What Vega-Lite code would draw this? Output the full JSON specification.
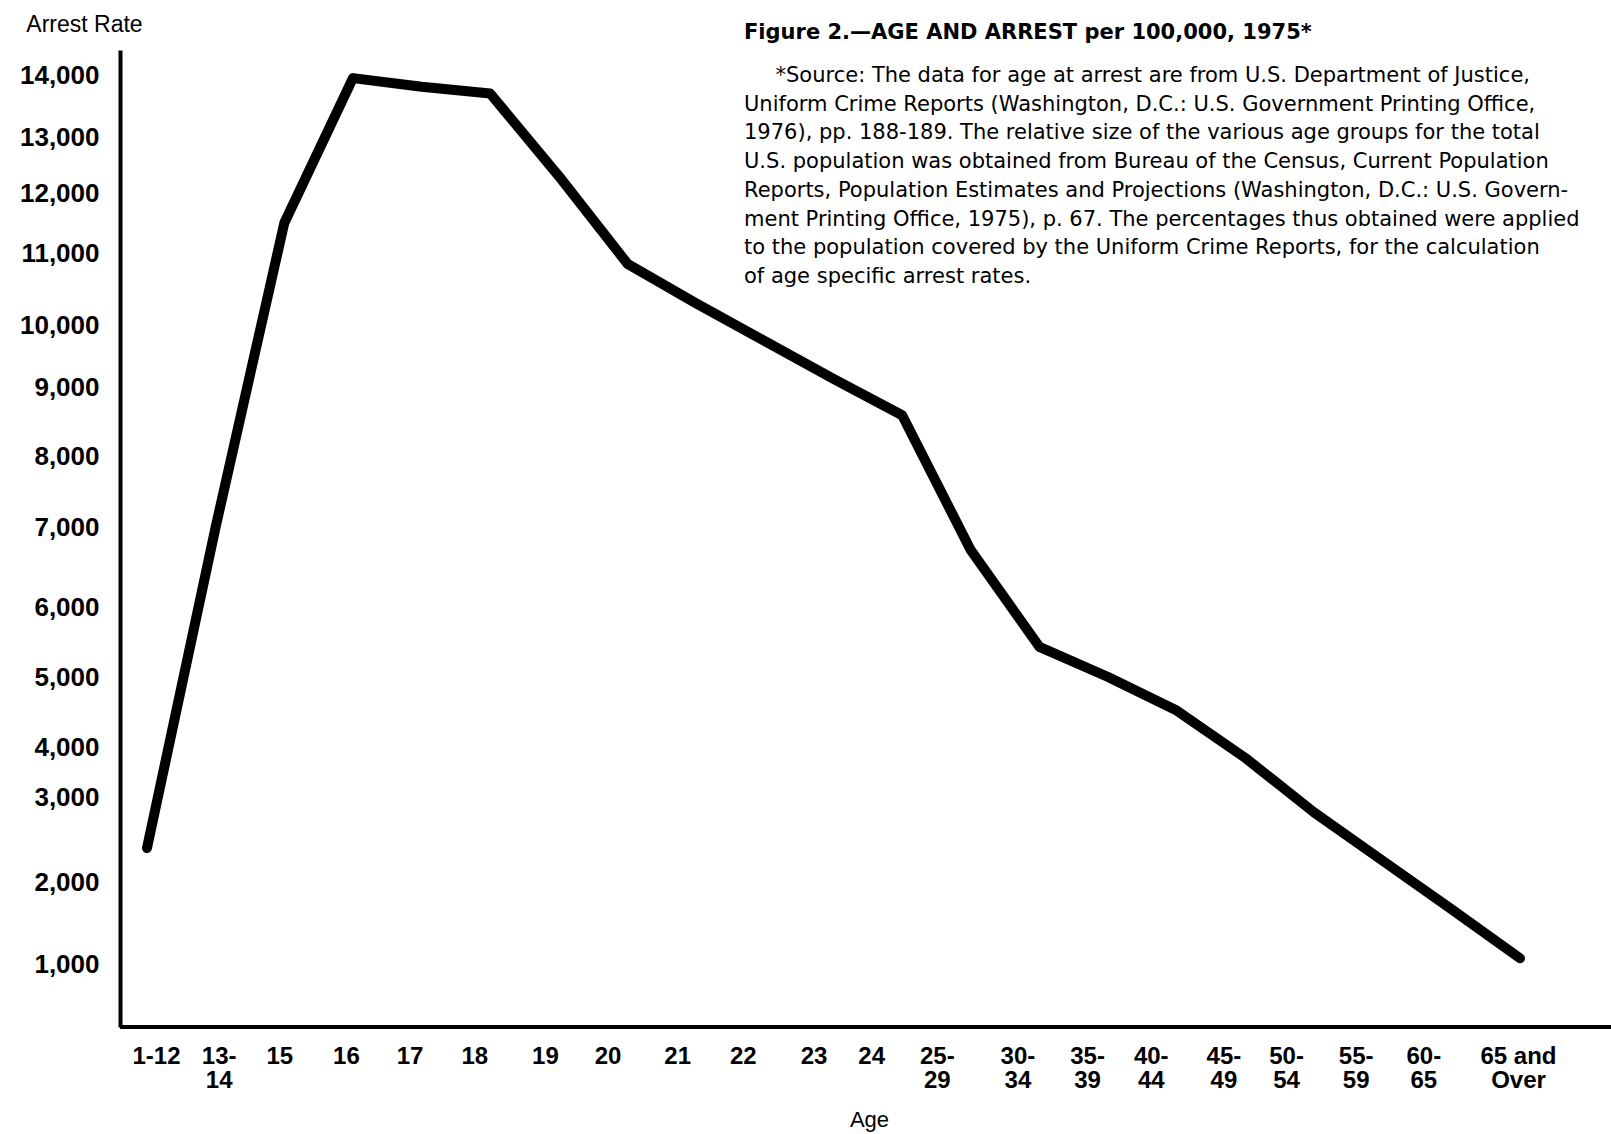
{
  "$schema": "https://vega.github.io/schema/vega-lite/v6.json",
  "width": 1491,
  "height": 977,
  "autosize": {"type": "none"},
  "padding": {"left": 120, "top": 50, "right": 0, "bottom": 107},
  "background": "white",
  "config": {"view": {"stroke": null}, "font": "Liberation Sans"},
  "title": {
    "text": "Figure 2.—AGE AND ARREST per 100,000, 1975*",
    "subtitle": [
      "\u200B\u2003\u2002*Source: The data for age at arrest are from U.S. Department of Justice,",
      "Uniform Crime Reports (Washington, D.C.: U.S. Government Printing Office,",
      "1976), pp. 188-189. The relative size of the various age groups for the total",
      "U.S. population was obtained from Bureau of the Census, Current Population",
      "Reports, Population Estimates and Projections (Washington, D.C.: U.S. Govern-",
      "ment Printing Office, 1975), p. 67. The percentages thus obtained were applied",
      "to the population covered by the Uniform Crime Reports, for the calculation",
      "of age specific arrest rates."
    ],
    "anchor": "start",
    "frame": "group",
    "orient": "top",
    "dx": 624,
    "offset": -274,
    "font": "DejaVu Sans",
    "fontSize": 21,
    "fontWeight": "bold",
    "color": "black",
    "subtitleFont": "DejaVu Sans",
    "subtitleFontSize": 21,
    "subtitleColor": "black",
    "subtitleLineHeight": 28.7,
    "subtitlePadding": 22
  },
  "data": {
    "values": [
      {"age": "1-12", "rate": 2400},
      {"age": "13-14", "rate": 7000},
      {"age": "15", "rate": 11500},
      {"age": "16", "rate": 13950},
      {"age": "17", "rate": 13810},
      {"age": "18", "rate": 13700},
      {"age": "19", "rate": 12300},
      {"age": "20", "rate": 10850},
      {"age": "21", "rate": 10300},
      {"age": "22", "rate": 9740},
      {"age": "23", "rate": 9130},
      {"age": "24", "rate": 8590},
      {"age": "25-29", "rate": 6710},
      {"age": "30-34", "rate": 5430},
      {"age": "35-39", "rate": 5000},
      {"age": "40-44", "rate": 4520},
      {"age": "45-49", "rate": 3780},
      {"age": "50-54", "rate": 2820},
      {"age": "55-59", "rate": 2250},
      {"age": "60-65", "rate": 1670},
      {"age": "65 and Over", "rate": 1070}
    ]
  },
  "layer": [
    {
      "mark": {"type": "line", "color": "black", "strokeWidth": 10, "strokeJoin": "round", "strokeCap": "round"},
      "encoding": {
        "x": {
          "field": "age",
          "type": "ordinal",
          "sort": null,
          "scale": {"type": "point", "range": [27, 1400], "padding": 0},
          "axis": {
            "title": "Age",
            "titleFont": "Liberation Sans",
            "titleFontSize": 22,
            "titleFontWeight": "normal",
            "titleColor": "black",
            "titleX": 749,
            "titleY": 99,
            "titleAlign": "center",
            "titleBaseline": "alphabetic",
            "domain": false,
            "ticks": false,
            "grid": false,
            "labelAngle": 0,
            "labelFont": "Liberation Sans",
            "labelFontSize": 24,
            "labelFontWeight": "bold",
            "labelColor": "black",
            "labelPadding": 17,
            "labelLineHeight": 24,
            "labelOverlap": false,
            "labelExpr": "length(datum.label) == 5 ? [substring(datum.label, 0, 3), substring(datum.label, 3)] : (datum.label == '65 and Over' ? ['65 and', 'Over'] : datum.label)",
            "labelOffset": {
              "condition": [
                {"test": "datum.value === '1-12'", "value": 9},
                {"test": "datum.value === '13-14'", "value": 3},
                {"test": "datum.value === '15'", "value": -5},
                {"test": "datum.value === '16'", "value": -7},
                {"test": "datum.value === '17'", "value": -12},
                {"test": "datum.value === '18'", "value": -16},
                {"test": "datum.value === '19'", "value": -14},
                {"test": "datum.value === '20'", "value": -20},
                {"test": "datum.value === '21'", "value": -19},
                {"test": "datum.value === '22'", "value": -22},
                {"test": "datum.value === '23'", "value": -20},
                {"test": "datum.value === '24'", "value": -31},
                {"test": "datum.value === '25-29'", "value": -34},
                {"test": "datum.value === '30-34'", "value": -22},
                {"test": "datum.value === '35-39'", "value": -21},
                {"test": "datum.value === '40-44'", "value": -26},
                {"test": "datum.value === '45-49'", "value": -22},
                {"test": "datum.value === '50-54'", "value": -28},
                {"test": "datum.value === '55-59'", "value": -27},
                {"test": "datum.value === '60-65'", "value": -28},
                {"test": "datum.value === '65 and Over'", "value": -2}
              ],
              "value": 0
            }
          }
        },
        "y": {
          "field": "rate",
          "type": "quantitative",
          "scale": {
            "zero": false,
            "nice": false,
            "domain": [230, 1000, 2000, 3000, 4000, 5000, 6000, 7000, 8000, 9000, 10000, 11000, 12000, 13000, 14000, 14400],
            "range": [977, 914, 832, 747, 697, 627, 557, 477, 406, 337, 275, 203, 143, 87, 25, 0]
          },
          "axis": {
            "values": [1000, 2000, 3000, 4000, 5000, 6000, 7000, 8000, 9000, 10000, 11000, 12000, 13000, 14000],
            "labelExpr": "format(datum.value, ',')",
            "title": "Arrest Rate",
            "titleAngle": 0,
            "titleFont": "Liberation Sans",
            "titleFontSize": 23,
            "titleFontWeight": "normal",
            "titleColor": "black",
            "titleAlign": "center",
            "titleBaseline": "alphabetic",
            "titleX": -36,
            "titleY": -19,
            "domain": true,
            "domainColor": "black",
            "domainWidth": 4,
            "ticks": false,
            "grid": false,
            "labelFont": "Liberation Sans",
            "labelFontSize": 26,
            "labelFontWeight": "bold",
            "labelColor": "black",
            "labelPadding": 21,
            "labelFlush": false,
            "labelOverlap": false
          }
        }
      }
    },
    {
      "mark": {"type": "rule", "color": "black", "strokeWidth": 4},
      "encoding": {"y": {"datum": 230, "type": "quantitative"}}
    }
  ]
}
